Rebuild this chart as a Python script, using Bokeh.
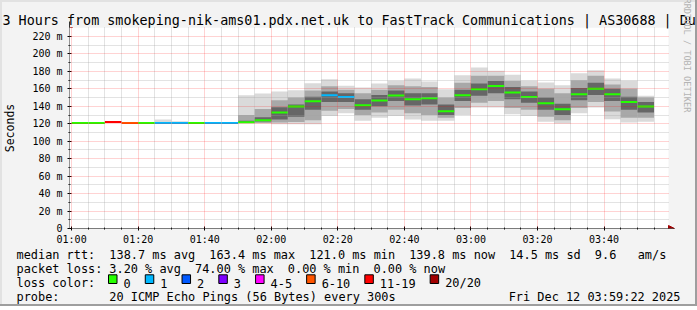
import math
from datetime import datetime, timedelta

from bokeh.plotting import figure
from bokeh.models import (Range1d, FixedTicker, DatetimeTickFormatter, Title,
                          Arrow, NormalHead, ColumnDataSource, BoxAnnotation)
from bokeh.core.properties import value
from bokeh.embed import file_html
from bokeh.resources import INLINE

# ---------------- data ----------------
graph_start = datetime(2025, 12, 12, 0, 59, 22)
graph_end = datetime(2025, 12, 12, 3, 59, 22)
first_step = datetime(2025, 12, 12, 1, 0, 0)
step_minutes = 5

median_ms = [121.0, 121.0, 122.0, 121.0, 121.0, 121.0, 121.0, 121.0, 121.0, 121.0,
             121.8, 124.1, 132.9, 139.8, 145.9, 152.7, 150.7, 141.3, 146.8, 152.5,
             148.2, 149.2, 134.3, 152.7, 159.6, 163.4, 155.8, 150.7, 143.6, 136.5,
             153.9, 160.0, 153.9, 144.8, 139.8]
loss_count = [0, 0, 15, 8, 0, 1, 1, 0, 1, 1,
              0, 0, 0, 0, 0, 1, 1, 0, 0, 0,
              0, 0, 0, 0, 0, 0, 0, 0, 0, 0,
              0, 0, 0, 0, 0]
smoke_min = [121.0, 121.0, 122.0, 121.0, 121.0, 121.0, 121.0, 121.0, 121.0, 121.0,
             120.5, 120.3, 119.5, 119.5, 119.5, 129.0, 132.0, 123.4, 127.0, 129.0,
             125.0, 123.4, 123.4, 130.0, 138.7, 138.7, 131.0, 129.0, 122.3, 120.3,
             132.0, 138.7, 125.2, 121.5, 122.3]
smoke_p10 = [121.0, 121.0, 122.0, 121.0, 121.0, 121.0, 121.0, 121.0, 121.0, 121.0,
             121.0, 121.0, 121.5, 122.0, 124.0, 135.0, 137.0, 130.0, 133.0, 136.0,
             132.0, 130.0, 127.0, 138.0, 144.0, 146.0, 138.0, 136.0, 128.0, 124.0,
             138.0, 145.0, 134.0, 127.0, 127.0]
smoke_q1 = [121.0, 121.0, 122.0, 121.0, 121.0, 121.0, 121.0, 121.0, 121.0, 121.0,
            121.3, 122.5, 125.0, 128.0, 136.0, 145.0, 145.0, 136.0, 140.0, 146.0,
            141.0, 142.0, 130.0, 146.0, 152.0, 155.0, 148.0, 144.0, 136.0, 130.0,
            147.0, 153.0, 146.0, 136.0, 133.0]
smoke_q3 = [121.0, 121.0, 122.0, 121.0, 121.0, 121.0, 121.0, 121.0, 121.0, 121.0,
            123.5, 127.5, 139.0, 142.0, 151.0, 157.0, 155.0, 148.0, 153.0, 158.0,
            155.0, 155.0, 142.0, 159.0, 166.0, 169.0, 162.0, 157.0, 150.0, 143.0,
            161.0, 167.0, 160.0, 151.0, 145.0]
smoke_p90 = [121.0, 121.0, 122.0, 121.0, 121.0, 121.0, 121.0, 121.0, 121.0, 121.0,
             130.0, 137.0, 147.0, 150.0, 158.0, 163.0, 159.0, 155.0, 159.0, 164.0,
             163.0, 162.0, 150.0, 167.0, 175.0, 175.0, 169.0, 163.0, 160.0, 155.0,
             170.0, 175.0, 165.0, 160.0, 150.0]
smoke_max = [121.0, 121.0, 122.0, 121.0, 121.0, 125.0, 123.0, 121.0, 121.0, 121.0,
             152.7, 154.7, 157.0, 158.5, 166.5, 171.0, 163.5, 161.6, 166.0, 169.2,
             171.9, 168.4, 159.6, 175.7, 184.5, 180.7, 176.1, 169.2, 167.3, 164.2,
             178.0, 181.4, 171.9, 169.2, 152.0]

loss_labels = ["0", "1", "2", "3", "4-5", "6-10", "11-19", "20/20"]
loss_upper = [0, 1, 2, 3, 5, 10, 19, 20]
loss_colors = ["#26ff00", "#00b8ff", "#0059ff", "#7e00ff", "#ff00ff",
               "#ff5500", "#ff0000", "#a10000"]

y_ticks = [0, 20, 40, 60, 80, 100, 120, 140, 160, 180, 200, 220]
y_tick_labels = ["0", "20 m", "40 m", "60 m", "80 m", "100 m", "120 m",
                 "140 m", "160 m", "180 m", "200 m", "220 m"]
y_minor = [10, 30, 50, 70, 90, 110, 130, 150, 170, 190, 210]
x_tick_labels = ["01:00", "01:20", "01:40", "02:00", "02:20", "02:40",
                 "03:00", "03:20", "03:40"]

title_text = "3 Hours from smokeping-nik-ams01.pdx.net.uk to FastTrack Communications | AS30688 | Dur"
watermark_text = "RRDTOOL / TOBI OETIKER"
legend_rtt = [(0, "median rtt:"), (13, "138.7 ms avg"), (27, "163.4 ms max"),
              (41, "121.0 ms min"), (55, "139.8 ms now"), (69, "14.5 ms sd"),
              (81, "9.6"), (87, "am/s")]
legend_loss = [(0, "packet loss:"), (13, "3.20 % avg"), (25, "74.00 % max"),
               (38, "0.00 % min"), (50, "0.00 % now")]
legend_probe = [(0, "probe:"), (13, "20 ICMP Echo Pings (56 Bytes) every 300s")]
legend_color_title = "loss color:"
date_text = "Fri Dec 12 03:59:22 2025"

# ---------------- helpers ----------------
EPOCH = datetime(1970, 1, 1)


def ms(dt):
    return (dt - EPOCH).total_seconds() * 1000.0


W, H = 697, 310
H1 = 248                                # main figure height
GAP = 4                                 # page gap between the two roots
FL, FR, FT, FB = 66, 668, 27, 228       # graph area edges in canvas pixels
EXT = 8                                 # frame extension to the right (room for arrow head)
Y_TOP = 230.3
MONO = "DejaVu Sans Mono"
BG = "#f3f3f3"

x0 = ms(graph_start)
x1 = ms(graph_end)
px_per_ms_x = (FR - FL) / (x1 - x0)
px_per_unit_y = (FB - FT) / Y_TOP
x1_ext = x1 + EXT / px_per_ms_x


def loss_color(n):
    for up, c in zip(loss_upper, loss_colors):
        if n <= up:
            return c
    return loss_colors[-1]


n = len(median_ms)
lefts = [ms(first_step + timedelta(minutes=step_minutes * i)) for i in range(n)]
rights = [ms(first_step + timedelta(minutes=step_minutes * (i + 1))) for i in range(n)]

src = ColumnDataSource(dict(
    left=lefts, right=rights, med=median_ms,
    lo=smoke_min, p10=smoke_p10, q1=smoke_q1, q3=smoke_q3, p90=smoke_p90, hi=smoke_max,
    color=[loss_color(c) for c in loss_count],
))

p = figure(width=W, height=H1, x_axis_type="datetime", output_backend="svg",
           toolbar_location=None, title=None,
           x_range=Range1d(x0, x1_ext), y_range=Range1d(0, Y_TOP),
           min_border_left=FL, min_border_right=W - FR - EXT,
           min_border_top=FT, min_border_bottom=H1 - FB,
           background_fill_color=None, border_fill_color=None,
           outline_line_color=None,
           styles={"background-color": BG, "vertical-align": "top",
                   "box-shadow": "inset -2px 0 0 #9e9e9e, inset 2px 2px 0 #e2e2e2"})

# white graph canvas (time span only)
p.add_layout(BoxAnnotation(left=x0, right=x1, fill_color="white", fill_alpha=1.0,
                           line_color=None, level="underlay"))

# smoke
p.quad(left="left", right="right", bottom="lo", top="hi", source=src,
       fill_color="#dadada", line_color=None)
p.quad(left="left", right="right", bottom="p10", top="p90", source=src,
       fill_color="#a8a8a8", line_color=None)
p.quad(left="left", right="right", bottom="q1", top="q3", source=src,
       fill_color="#666666", line_color=None)
# median
p.segment(x0="left", x1="right", y0="med", y1="med", source=src,
          line_color="color", line_width=2)

# ticks / grids
x_major = [ms(first_step + timedelta(minutes=20 * i)) for i in range(len(x_tick_labels))]
x_minor = [ms(first_step + timedelta(minutes=5 * i)) for i in range(36)]
x_minor = [t for t in x_minor if t not in x_major]
xt = FixedTicker(ticks=x_major, minor_ticks=x_minor)
yt = FixedTicker(ticks=y_ticks, minor_ticks=y_minor)
p.xaxis.ticker = xt
p.yaxis.ticker = yt
p.xgrid.ticker = xt
p.ygrid.ticker = yt
p.ygrid.cross_bounds = (x0, x1)
p.xaxis.formatter = DatetimeTickFormatter(minutes="%H:%M", hourmin="%H:%M",
                                          hours="%H:%M", minsec="%H:%M")
p.yaxis.major_label_overrides = {t: l for t, l in zip(y_ticks, y_tick_labels)}

for g in (p.xgrid, p.ygrid):
    g.level = "guide"
    g.grid_line_color = "#ff0000"
    g.grid_line_alpha = 0.35
    g.grid_line_dash = "1 1"
    g.minor_grid_line_color = "#a0a0a0"
    g.minor_grid_line_alpha = 0.6
    g.minor_grid_line_dash = "1 1"

for ax in (p.xaxis, p.yaxis):
    ax.axis_line_color = None
    ax.major_label_text_font = MONO
    ax.major_label_text_font_size = "10px"
    ax.major_label_text_color = "black"
    ax.major_tick_line_color = "black"
    ax.minor_tick_line_color = "black"
    ax.major_tick_in = 2
    ax.major_tick_out = 2
    ax.minor_tick_in = 1
    ax.minor_tick_out = 1
p.xaxis.major_label_standoff = 3
p.yaxis.major_label_standoff = 5
p.yaxis.axis_label = "Seconds"
p.yaxis.axis_label_text_font = MONO
p.yaxis.axis_label_text_font_size = "11.5px"
p.yaxis.axis_label_text_font_style = "normal"
p.yaxis.axis_label_text_color = "black"
p.yaxis.axis_label_standoff = 12

# axis lines with arrow heads
dx4 = 4 / px_per_ms_x
dx6 = 6 / px_per_ms_x
dy4 = 4 / px_per_unit_y
dy6 = 6 / px_per_unit_y
p.add_layout(Arrow(x_start=x0 - dx4, y_start=0, x_end=x1 + dx6, y_end=0,
                   line_color="black", line_width=1, level="overlay",
                   end=NormalHead(size=6, fill_color="#a00000", line_color="#a00000")))
p.add_layout(Arrow(x_start=x0, y_start=-dy4, x_end=x0, y_end=Y_TOP + dy6,
                   line_color="#333333", line_width=1, level="overlay",
                   end=NormalHead(size=6, fill_color="#a00000", line_color="#a00000")))

# title and watermark in side panels
p.add_layout(Title(text=title_text, align="left", offset=-67, standoff=0,
                   text_font=MONO, text_font_size="13.4px", text_font_style="normal",
                   text_color="black", text_baseline="alphabetic"), "above")
p.add_layout(Title(text=watermark_text, align="left", offset=-29, standoff=7,
                   vertical_align="top", text_baseline="top",
                   text_font=MONO, text_font_size="8.6px", text_font_style="normal",
                   text_color="#b4b4b4"), "right")

# ---------------- lower text block (canvas pixel space) ----------------
TOP2 = H1 + GAP                 # canvas y where the lower block starts
H2 = H - TOP2
q = figure(width=W, height=H2, output_backend="svg", toolbar_location=None,
           title=None, x_range=Range1d(0, W), y_range=Range1d(H2, 0),
           x_axis_location=None, y_axis_location=None,
           min_border=0, min_border_left=0, min_border_right=0,
           min_border_top=0, min_border_bottom=0,
           background_fill_color=None, border_fill_color=None,
           outline_line_color=None,
           styles={"background-color": BG, "vertical-align": "top",
                   "box-shadow": "inset -2px -2px 0 #9e9e9e, inset 2px 0 0 #e2e2e2"})
q.grid.visible = False

CW = 7.14
LX = 16
rows = [(258.3, legend_rtt), (272.5, legend_loss), (300.7, legend_probe)]
tx, ty, tt, ta = [], [], [], []
for row_y, fields in rows:
    for col, t in fields:
        tx.append(LX + col * CW)
        ty.append(row_y - TOP2)
        tt.append(t)
        ta.append("left")
tx.append(680); ty.append(300.7 - TOP2); tt.append(date_text); ta.append("right")
tx.append(LX); ty.append(286.6 - TOP2); tt.append(legend_color_title); ta.append("left")

sw_l, sw_r = [], []
lx = 123.0
for name in loss_labels:
    sw_l.append(lx - 15)
    sw_r.append(lx - 6.5)
    tx.append(lx); ty.append(286.6 - TOP2); tt.append(name); ta.append("left")
    lx += (len(name) + 4.15) * CW

q.quad(left=sw_l, right=sw_r, top=[278.3 - TOP2] * len(sw_l),
       bottom=[287 - TOP2] * len(sw_l),
       fill_color=loss_colors, line_color="black", line_width=1)
q.text(x=tx, y=ty, text=tt, text_align=ta, text_baseline="alphabetic",
       text_font=value(MONO), text_font_size="11.9px", text_color="black")

open("out.html", "w").write(file_html([p, q], INLINE))
